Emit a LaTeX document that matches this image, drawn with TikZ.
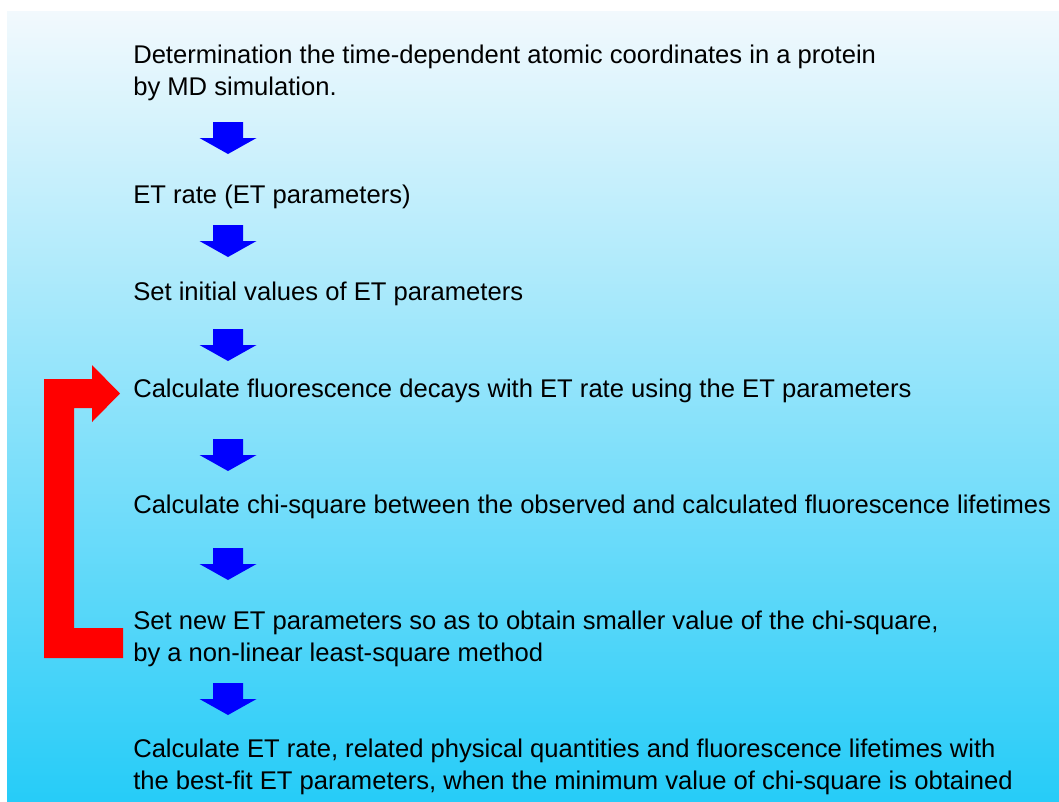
\documentclass[tikz,border=0pt]{standalone}
\usepackage{fontspec}
\setmainfont{Liberation Sans}
\definecolor{bgtop}{RGB}{242,249,253}
\definecolor{bgbot}{RGB}{38,204,248}
\definecolor{arrowblue}{RGB}{0,0,255}
\definecolor{loopred}{RGB}{255,0,0}
\tikzset{
  txt/.style={anchor=base west, inner sep=0pt, align=left, text=black,
    font=\fontsize{19.2}{24}\selectfont},
  blockarrow/.pic={\fill[arrowblue] (-15,0) -- (15,0) -- (15,16) -- (28.5,16) -- (0,32) -- (-28.5,16) -- (-15,16) -- cycle;}
}
\begin{document}
\begin{tikzpicture}[x=0.75pt,y=-0.75pt]
\useasboundingbox (0,0) rectangle (1059,801);
\shade[top color=bgtop, bottom color=bgbot] (7,11) rectangle (1059,801);

% multi-line nodes: base anchor is the baseline of the last line
\node[txt] (t1) at (133,95) {Determination the time-dependent atomic coordinates in a protein\\by MD simulation.};
\node[txt] (t2) at (133,203) {ET rate (ET parameters)};
\node[txt] (t3) at (133,300) {Set initial values of ET parameters};
\node[txt] (t4) at (133,397) {Calculate fluorescence decays with ET rate using the ET parameters};
\node[txt] (t5) at (133,513) {Calculate chi-square between the observed and calculated fluorescence lifetimes};
\node[txt] (t6) at (133,661) {Set new ET parameters so as to obtain smaller value of the chi-square,\\by a non-linear least-square method};
\node[txt] (t7) at (133,789) {Calculate ET rate, related physical quantities and fluorescence lifetimes with\\the best-fit ET parameters, when the minimum value of chi-square is obtained};

\pic at (228,122) {blockarrow};
\pic at (228,225) {blockarrow};
\pic at (228,329) {blockarrow};
\pic at (228,439) {blockarrow};
\pic at (228,548) {blockarrow};
\pic at (228,683) {blockarrow};

\fill[loopred] (44,379) -- (92,379) -- (92,365) -- (120,393.5) -- (92,422) -- (92,408) -- (74,408) -- (74,628) -- (123,628) -- (123,658) -- (44,658) -- cycle;
\end{tikzpicture}
\end{document}
